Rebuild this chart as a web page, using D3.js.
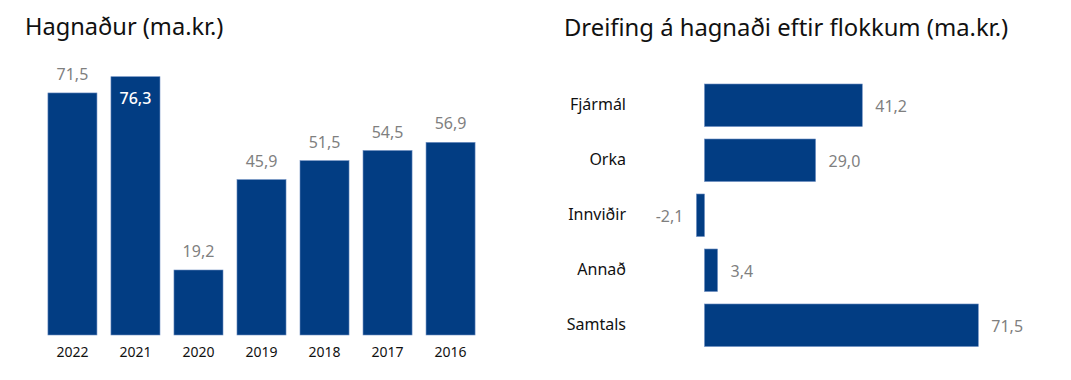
<!DOCTYPE html>
<html><head><meta charset="utf-8">
<script src="https://cdn.jsdelivr.net/npm/d3@7"></script>
<style>body{margin:0;background:#fff;} svg{display:block;font-family:"Noto Sans",sans-serif;}</style>
</head><body>
<svg id="c" width="1071" height="380"></svg>
<script>
const years = ["2022","2021","2020","2019","2018","2017","2016"];
const profits = [71.5,76.3,19.2,45.9,51.5,54.5,56.9];
const categories = ["Fjármál","Orka","Innviðir","Annað","Samtals"];
const catValues = [41.2,29.0,-2.1,3.4,71.5];
const title1 = "Hagnaður (ma.kr.)";
const title2 = "Dreifing á hagnaði eftir flokkum (ma.kr.)";

const barColor = "#023d83", labelGray = "#7f7f7f";
const fmt = v => d3.format(".1f")(v).replace(".", ",").replace("−", "-");
const svg = d3.select("#c");

// Left chart
svg.append("text").attr("x",25).attr("y",35).attr("font-size",23.6).attr("fill","#111").text(title1);
const x1 = d3.scaleBand().domain(years).range([41,482]).paddingInner(0.222).paddingOuter(0.11);
const y1 = d3.scaleLinear().domain([0,76.3]).range([335,76.7]);
const g1 = svg.append("g");
g1.selectAll("rect").data(profits).join("rect")
  .attr("x",(d,i)=>x1(years[i])).attr("width",x1.bandwidth())
  .attr("y",d=>y1(d)).attr("height",d=>y1(0)-y1(d))
  .attr("fill",barColor).attr("stroke","#6b8cc0").attr("stroke-width",0.6);
const maxV = d3.max(profits);
g1.selectAll("text.v").data(profits).join("text").attr("class","v")
  .attr("x",(d,i)=>x1(years[i])+x1.bandwidth()/2)
  .attr("y",d=> d===maxV ? y1(d)+27 : y1(d)-13)
  .attr("text-anchor","middle").attr("font-size",16)
  .attr("fill",d=> d===maxV ? "#fff" : labelGray)
  .attr("font-weight",d=> d===maxV ? 500 : 400)
  .text(fmt);
const ax1 = d3.axisBottom(x1).tickSize(0).tickPadding(12);
svg.append("g").attr("transform","translate(0,335)").call(ax1)
  .call(g=>g.select(".domain").remove())
  .selectAll("text").attr("font-size",14).attr("fill","#111").attr("font-family","Noto Sans");

// Right chart
svg.append("text").attr("x",564).attr("y",36).attr("font-size",23.8).attr("fill","#111").text(title2);
const y2 = d3.scaleBand().domain(categories).range([84,346.5]).paddingInner(0.227).paddingOuter(0);
const x2 = d3.scaleLinear().domain([0,71.5]).range([704.5,978.3]);
const g2 = svg.append("g");
g2.selectAll("rect").data(catValues).join("rect")
  .attr("y",(d,i)=>y2(categories[i])).attr("height",y2.bandwidth())
  .attr("x",d=>x2(Math.min(0,d))).attr("width",d=>Math.abs(x2(d)-x2(0)))
  .attr("fill",barColor).attr("stroke","#6b8cc0").attr("stroke-width",0.6);
g2.selectAll("text.v").data(catValues).join("text").attr("class","v")
  .attr("y",(d,i)=>y2(categories[i])+y2.bandwidth()/2+7)
  .attr("x",d=> d<0 ? x2(d)-13 : x2(d)+13)
  .attr("text-anchor",d=> d<0 ? "end" : "start")
  .attr("font-size",16).attr("fill",labelGray).text(fmt);
const ax2 = d3.axisLeft(y2).tickSize(0).tickPadding(0);
svg.append("g").attr("transform","translate(626,0)").call(ax2)
  .call(g=>g.select(".domain").remove())
  .selectAll("text").attr("font-size",16).attr("fill","#111").attr("font-family","Noto Sans");
</script>
</body></html>
